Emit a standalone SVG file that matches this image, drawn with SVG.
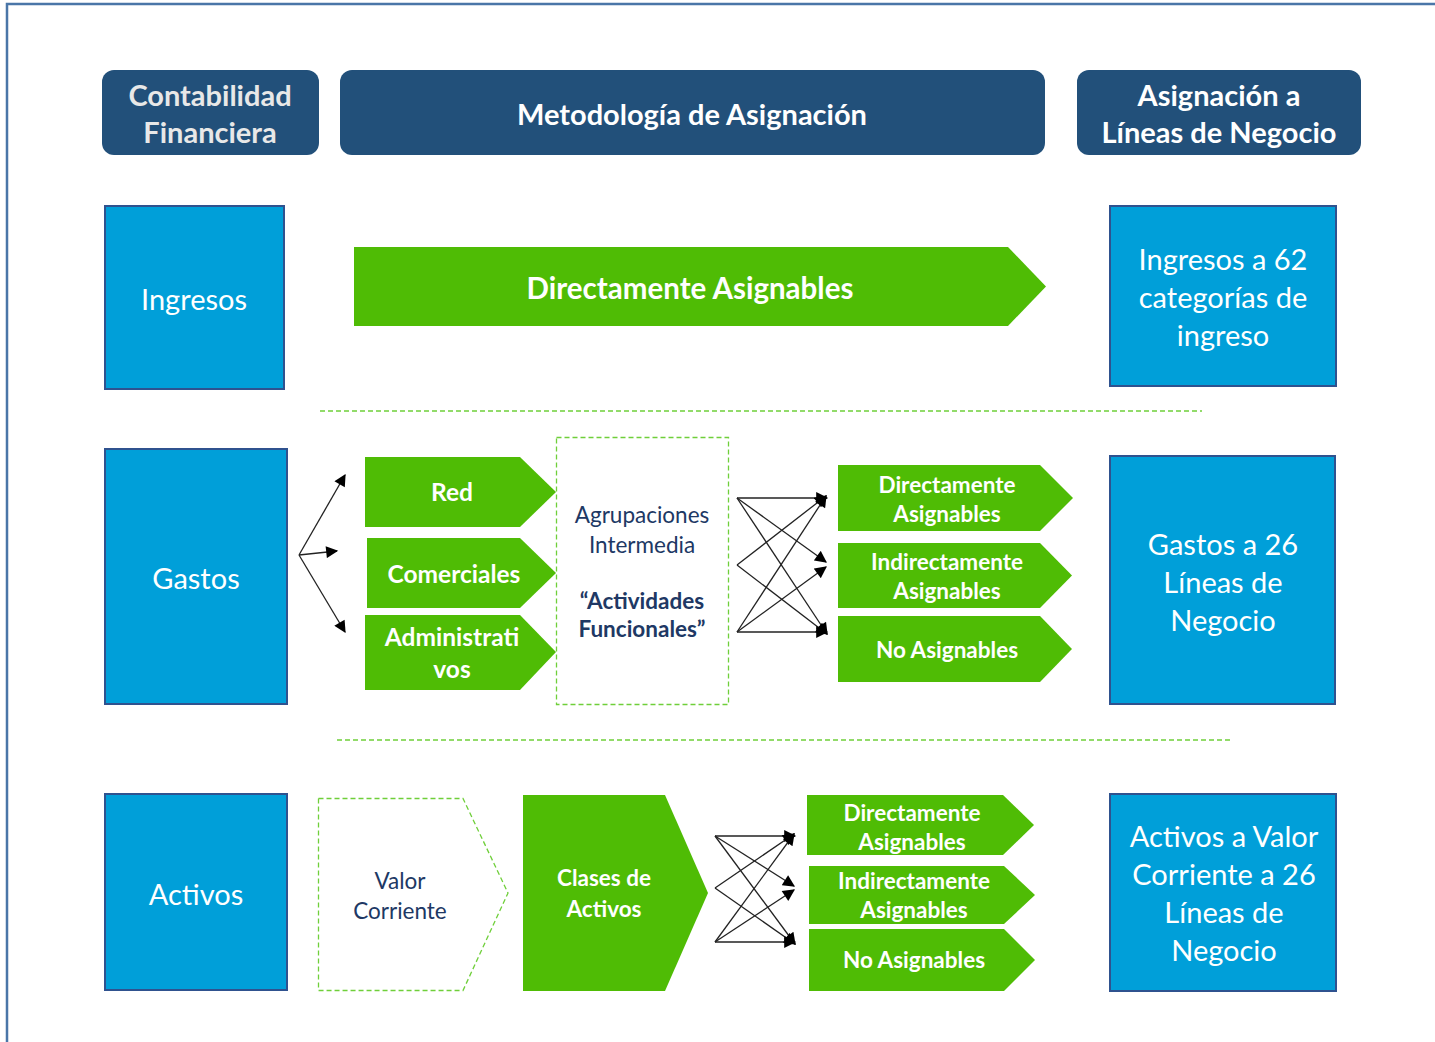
<svg xmlns="http://www.w3.org/2000/svg" width="1435" height="1042" viewBox="0 0 1435 1042">
<defs>
<style>
.hdr{fill:#22507a}
.hdrt{font-family:Lato,"Open Sans",sans-serif;font-weight:bold;font-size:29px;fill:#fff;text-anchor:middle;dominant-baseline:central}
.blue{fill:#009fd9;stroke:#2f528f;stroke-width:2}
.bt{font-family:Lato,"Open Sans",sans-serif;font-size:29px;fill:#fff;text-anchor:middle;dominant-baseline:central}
.grn{fill:#4fbc05}
.gt{font-family:Lato,"Open Sans",sans-serif;font-weight:bold;font-size:24.5px;fill:#fff;text-anchor:middle;dominant-baseline:central}
.gs{font-family:Lato,"Open Sans",sans-serif;font-weight:bold;font-size:22.5px;fill:#fff;text-anchor:middle;dominant-baseline:central}
.dash{fill:none;stroke:#6fcf3a;stroke-width:1.3;stroke-dasharray:5 3}
.nt{font-family:Lato,"Open Sans",sans-serif;font-size:22.5px;fill:#203864;text-anchor:middle;dominant-baseline:central}
.ntb{font-family:Lato,"Open Sans",sans-serif;font-weight:bold;font-size:22.5px;fill:#203864;text-anchor:middle;dominant-baseline:central}
.ar{stroke:#222;stroke-width:1.3;fill:none;marker-end:url(#ah)}
</style>
<marker id="ah" viewBox="0 0 10 10" refX="9" refY="5" markerWidth="13" markerHeight="12" markerUnits="userSpaceOnUse" orient="auto"><path d="M0,0 L10,5 L0,10 z" fill="#000"/></marker>
</defs>
<rect width="1435" height="1042" fill="#fff"/>
<path d="M7,1042 V4 H1435" fill="none" stroke="#4a76a8" stroke-width="2.5"/>

<g id="h-contabilidad"><rect class="hdr" x="102" y="70" width="217" height="85" rx="12"/><text class="hdrt" x="210" y="94" style="fill:#e8e8e8">Contabilidad</text><text class="hdrt" x="210" y="131" style="fill:#e8e8e8">Financiera</text></g>
<g id="h-metodologia"><rect class="hdr" x="340" y="70" width="705" height="85" rx="12"/><text class="hdrt" x="692" y="113">Metodología de Asignación</text></g>
<g id="h-asignacion"><rect class="hdr" x="1077" y="70" width="284" height="85" rx="12"/><text class="hdrt" x="1219" y="94">Asignación a</text><text class="hdrt" x="1219" y="131">Líneas de Negocio</text></g>

<g id="ingresos"><rect class="blue" x="105" y="206" width="179" height="183"/><text class="bt" x="194" y="298">Ingresos</text></g>
<g id="gastos"><rect class="blue" x="105" y="449" width="182" height="255"/><text class="bt" x="196" y="577">Gastos</text></g>
<g id="activos"><rect class="blue" x="105" y="794" width="182" height="196"/><text class="bt" x="196" y="893">Activos</text></g>

<g id="r-ingresos"><rect class="blue" x="1110" y="206" width="226" height="180"/><text class="bt" x="1223" y="258">Ingresos a 62</text><text class="bt" x="1223" y="296">categorías de</text><text class="bt" x="1223" y="334">ingreso</text></g>
<g id="r-gastos"><rect class="blue" x="1110" y="456" width="225" height="248"/><text class="bt" x="1223" y="543">Gastos a 26</text><text class="bt" x="1223" y="581">Líneas de</text><text class="bt" x="1223" y="619">Negocio</text></g>
<g id="r-activos"><rect class="blue" x="1110" y="794" width="226" height="197"/><text class="bt" x="1224" y="835">Activos a Valor</text><text class="bt" x="1224" y="873">Corriente a 26</text><text class="bt" x="1224" y="911">Líneas de</text><text class="bt" x="1224" y="949">Negocio</text></g>

<g id="dir-asignables"><path class="grn" d="M354,247 H1008 L1046,286.5 L1008,326 H354 Z"/><text class="gt" x="690" y="287" style="font-size:29.5px">Directamente Asignables</text></g>

<g id="separators"><line class="dash" x1="320" y1="411" x2="1202" y2="411"/><line class="dash" x1="337" y1="740" x2="1230" y2="740"/></g>

<g id="red"><path class="grn" d="M365,457 H520 L556,492 L520,527 H365 Z"/><text class="gt" x="452" y="491">Red</text></g>
<g id="comerciales"><path class="grn" d="M367,538 H520 L556,573 L520,608 H367 Z"/><text class="gt" x="454" y="573">Comerciales</text></g>
<g id="administrativos"><path class="grn" d="M365,615 H520 L556,652 L520,690 H365 Z"/><text class="gt" x="452" y="636">Administrati</text><text class="gt" x="452" y="668">vos</text></g>

<g id="agrupaciones"><rect class="dash" x="556.5" y="437.5" width="172" height="267"/><text class="nt" x="642" y="514">Agrupaciones</text><text class="nt" x="642" y="544">Intermedia</text><text class="ntb" x="642" y="600">“Actividades</text><text class="ntb" x="642" y="628">Funcionales”</text></g>

<g id="g-directamente"><path class="grn" d="M838,465 H1040 L1073,498 L1040,531 H838 Z"/><text class="gs" x="947" y="484">Directamente</text><text class="gs" x="947" y="513">Asignables</text></g>
<g id="g-indirectamente"><path class="grn" d="M838,543 H1040 L1072,575.5 L1040,608 H838 Z"/><text class="gs" x="947" y="561">Indirectamente</text><text class="gs" x="947" y="590">Asignables</text></g>
<g id="g-noasignables"><path class="grn" d="M838,616 H1040 L1072,649 L1040,682 H838 Z"/><text class="gs" x="947" y="649">No Asignables</text></g>

<g id="valor-corriente"><path class="dash" d="M318.5,798.5 H463 L508,893 L463,990.5 H318.5 Z"/><text class="nt" x="400" y="880">Valor</text><text class="nt" x="400" y="910">Corriente</text></g>
<g id="clases-activos"><path class="grn" d="M523,795 H665 L708,893 L665,991 H523 Z"/><text class="gs" x="604" y="877">Clases de</text><text class="gs" x="604" y="908">Activos</text></g>

<g id="a-directamente"><path class="grn" d="M807,795 H1003 L1034,825 L1003,855 H807 Z"/><text class="gs" x="912" y="812">Directamente</text><text class="gs" x="912" y="841">Asignables</text></g>
<g id="a-indirectamente"><path class="grn" d="M809,866 H1004 L1035,895 L1004,924 H809 Z"/><text class="gs" x="914" y="880">Indirectamente</text><text class="gs" x="914" y="909">Asignables</text></g>
<g id="a-noasignables"><path class="grn" d="M809,929 H1004 L1035,960 L1004,991 H809 Z"/><text class="gs" x="914" y="959">No Asignables</text></g>

<g id="connectors">
<line class="ar" x1="299" y1="555" x2="345" y2="475"/>
<line class="ar" x1="299" y1="555" x2="337" y2="551"/>
<line class="ar" x1="299" y1="555" x2="345" y2="632"/>

<line class="ar" x1="737" y1="498" x2="827" y2="498"/>
<line class="ar" x1="737" y1="498" x2="826" y2="562"/>
<line class="ar" x1="737" y1="498" x2="827" y2="634"/>
<line class="ar" x1="737" y1="565" x2="826" y2="496"/>
<line class="ar" x1="737" y1="565" x2="827" y2="634"/>
<line class="ar" x1="737" y1="632" x2="826" y2="496"/>
<line class="ar" x1="737" y1="632" x2="826" y2="567"/>
<line class="ar" x1="737" y1="632" x2="827" y2="632"/>

<line class="ar" x1="715" y1="836" x2="795" y2="836"/>
<line class="ar" x1="715" y1="836" x2="794" y2="886"/>
<line class="ar" x1="715" y1="836" x2="795" y2="944"/>
<line class="ar" x1="715" y1="888" x2="794" y2="834"/>
<line class="ar" x1="715" y1="888" x2="795" y2="944"/>
<line class="ar" x1="715" y1="942" x2="794" y2="834"/>
<line class="ar" x1="715" y1="942" x2="794" y2="890"/>
<line class="ar" x1="715" y1="942" x2="795" y2="942"/>
</g>
</svg>
